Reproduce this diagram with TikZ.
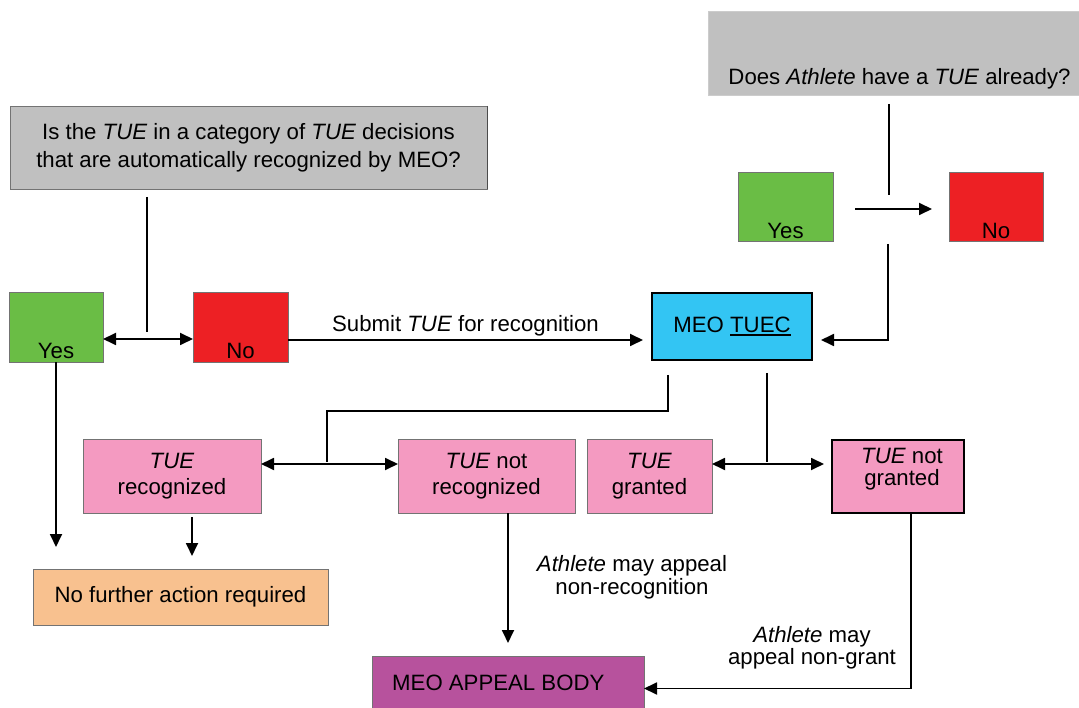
\documentclass[tikz,border=0pt]{standalone}
\usepackage{fontspec}
\setmainfont{Liberation Sans}
\usetikzlibrary{arrows.meta}
\definecolor{boxgray}{HTML}{C0C0C0}
\definecolor{yesgreen}{HTML}{6ABD45}
\definecolor{nored}{HTML}{ED2024}
\definecolor{tuecblue}{HTML}{33C5F3}
\definecolor{tuepink}{HTML}{F49AC1}
\definecolor{actorange}{HTML}{F8C18F}
\definecolor{appealpurple}{HTML}{B7529D}
\newcommand{\ulthick}[1]{\setbox0\hbox{#1}\rlap{\rule[-3pt]{\wd0}{1.6pt}}\box0}
\begin{document}
\begin{tikzpicture}[x=1pt,y=-1pt,
  font=\fontsize{22.2}{26}\selectfont,
  box/.style={draw=black!55, line width=0.7pt, anchor=north west, inner sep=0pt, outer sep=0pt, align=center},
  strongbox/.style={box, draw=black, line width=1.6pt},
  conn/.style={line width=1.8pt, -{Triangle[length=13pt,width=12pt]}},
  dconn/.style={line width=1.8pt, {Triangle[length=13pt,width=12pt]}-{Triangle[length=13pt,width=12pt]}},
  plain/.style={line width=1.8pt},
  lbl/.style={align=center, inner sep=0pt},
]
\useasboundingbox (0,0) rectangle (1079,708);

% question boxes
\node[box, fill=boxgray, minimum width=477pt, minimum height=83pt,
  font=\fontsize{22.2}{28}\selectfont] (q1) at (10,106)
  {Is the \textit{TUE} in a category of \textit{TUE} decisions\\that are automatically recognized by MEO?};
\draw[black!70, line width=1pt] (q1.north east) -- (q1.south east);
\node[box, fill=boxgray, draw=black!20, minimum width=375pt, minimum height=84pt,
  label={[anchor=base, inner sep=0pt, yshift=10pt, xshift=4pt]south:Does \textit{Athlete} have a \textit{TUE} already?}] (q2) at (708,11) {};

% yes / no boxes
\node[box, fill=yesgreen, minimum width=94pt, minimum height=70pt,
  label={[anchor=base, inner sep=0pt, yshift=3.5pt]south:Yes}] (yes1) at (9,292) {};
\node[box, fill=nored, minimum width=95pt, minimum height=70pt,
  label={[anchor=base, inner sep=0pt, yshift=3.5pt]south:No}] (no1) at (193,292) {};
\node[box, fill=yesgreen, minimum width=95pt, minimum height=69pt,
  label={[anchor=base, inner sep=0pt, yshift=2pt]south:Yes}] (yes2) at (738,172) {};
\node[box, fill=nored, minimum width=94pt, minimum height=69pt,
  label={[anchor=base, inner sep=0pt, yshift=2pt]south:No}] (no2) at (949,172) {};

% TUEC
\node[strongbox, fill=tuecblue, minimum width=160pt, minimum height=67pt] (tuec) at (652,293) {MEO \ulthick{TUEC}};

% outcomes
\node[box, fill=tuepink, minimum width=178pt, minimum height=74pt] (rec) at (83,439) {\textit{TUE}\\recognized};
\node[box, fill=tuepink, minimum width=177pt, minimum height=74pt] (notrec) at (398,439) {\textit{TUE} not\\recognized};
\node[box, fill=tuepink, minimum width=125pt, minimum height=74pt] (granted) at (587,439) {\textit{TUE}\\granted};
\node[strongbox, fill=tuepink, minimum width=132pt, minimum height=73pt,
  label={[anchor=north, align=center, inner sep=0pt, yshift=-8pt, xshift=4pt, font=\fontsize{22.2}{22}\selectfont]north:\textit{TUE} not\\granted}] (notgranted) at (832,440) {};
\node[box, fill=actorange, minimum width=295pt, minimum height=56pt] (noaction) at (33,569) {No further action required};
\node[box, fill=appealpurple, minimum width=272pt, minimum height=53pt,
  label={[anchor=west, inner sep=0pt, xshift=20pt]west:MEO APPEAL BODY}] (appeal) at (372,656) {};

% connector end points
\coordinate (q1a) at (147,197);
\coordinate (q1b) at (147,332);
\coordinate (q2a) at (889,104);
\coordinate (q2b) at (889,195);
\coordinate (q2c) at (888,244);
\coordinate (tl) at (668,375);
\coordinate (tlc) at (327,411);
\coordinate (tlb) at (327,462);
\coordinate (tr) at (767,373);
\coordinate (trb) at (767,462);

% top-left decision
\draw[plain] (q1a) -- (q1b);
\draw[dconn] ([yshift=-12pt]yes1.east) -- ([yshift=-12pt]no1.west);
\draw[conn] ([yshift=-13pt]no1.east) -- ([yshift=-13.5pt, xshift=-9pt]tuec.west)
  node[midway, above, inner sep=3pt] {Submit \textit{TUE} for recognition};
\draw[conn] (yes1.south) -- ([yshift=22pt]yes1.south |- noaction.north);

% top-right decision
\draw[plain] (q2a) -- (q2b);
\draw[conn] ([xshift=22pt, yshift=-2.5pt]yes2.east) -- ([xshift=-17pt, yshift=-2.5pt]no2.west);
\draw[conn] (q2c) |- ([xshift=9pt, yshift=-13.5pt]tuec.east);

% from TUEC
\draw[plain] (tl) |- (tlc) -- (tlb);
\draw[dconn] ([yshift=12pt]rec.east) -- ([yshift=12pt]notrec.west);
\draw[plain] (tr) -- (trb);
\draw[dconn] ([yshift=12pt]granted.east) -- ([yshift=12.5pt, xshift=-8pt]notgranted.west);

% downward
\draw[conn] ([xshift=20pt, yshift=-4pt]rec.south) -- ([xshift=11.5pt, yshift=13pt]noaction.north);
\draw[conn] (notrec.south -| appeal.north) -- ([yshift=13pt]appeal.north);
\draw[conn] ([xshift=13pt]notgranted.south) |- ([yshift=-6pt]appeal.east);

% labels
\node[lbl, font=\fontsize{22.2}{23}\selectfont] (lab1) at (632,577) {\textit{Athlete} may appeal\\non-recognition};
\node[lbl, font=\fontsize{22.2}{22}\selectfont] (lab2) at (812,648) {\textit{Athlete} may\\appeal non-grant};
\end{tikzpicture}
\end{document}
